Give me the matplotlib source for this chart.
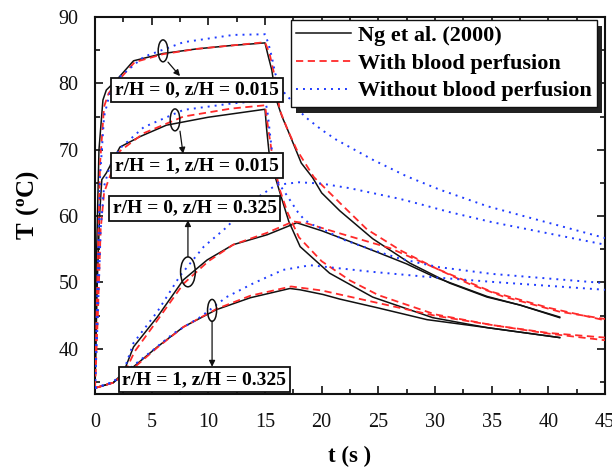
import matplotlib
matplotlib.use("Agg")
import matplotlib.pyplot as plt
from matplotlib.patches import Ellipse, Rectangle
from matplotlib.ticker import MultipleLocator

plt.rcParams['font.family'] = ['Liberation Serif', 'DejaVu Serif']
plt.rcParams['mathtext.fontset'] = 'custom'
plt.rcParams['mathtext.rm'] = 'Liberation Serif'
plt.rcParams['mathtext.bf'] = 'Liberation Serif:bold'

# ---- r/H = 0, z/H = 0.015 ----
ng_a_t = [0, 0.15, 0.35, 0.7, 1.0, 1.9, 3.4, 6.0, 9.0, 12.0, 15.0, 15.3, 15.6, 16.0, 16.5,
          17.0, 18.2, 19.2, 20.0, 21.6, 24.5, 27.8, 31.3, 34.6, 37.5, 41.0]
ng_a_T = [34.1, 55, 70, 77.5, 79, 80.5, 83.4, 84.5, 85.2, 85.7, 86.1, 84, 82, 77.5, 75,
          73, 68, 65.8, 63.5, 60.8, 56.6, 52.9, 49.9, 47.8, 46.6, 44.7]
wp_a_t = [0, 0.2, 0.45, 0.8, 1.2, 2.0, 3.5, 6, 9, 12, 15, 15.4, 15.8, 16.3, 17.0, 17.8,
          19.3, 21.6, 24, 27, 30, 33, 36, 41, 45]
wp_a_T = [34.1, 50, 68, 76.5, 78.5, 80.3, 83.2, 84.4, 85.2, 85.7, 86.2, 84.5, 81.5, 76,
          73, 70, 65.9, 62, 58.0, 54.8, 52.2, 49.8, 47.9, 45.6, 44.5]
np_a_t = [0, 0.2, 0.45, 0.8, 1.3, 2.2, 4.3, 7.8, 12.2, 15.0, 15.3, 15.6, 15.9, 16.5, 17.0,
          17.6, 18.1, 18.8, 20.0, 21.3, 24.5, 27.5, 30.4, 34.6, 38.7, 45]
np_a_T = [34.1, 48, 66, 75, 78.5, 81, 84, 86.2, 87.3, 87.4, 86, 84, 81.5, 79, 78,
          77, 75.7, 74.6, 73, 71.5, 68.5, 66, 64, 61.5, 59.6, 56.7]

# ---- r/H = 1, z/H = 0.015 ----
ng_b_t = [0, 0.2, 0.4, 0.6, 1.0, 2.2, 4.0, 6.3, 10, 15.0, 15.15, 15.35, 15.9, 16.5, 17.1,
          18.1, 20.7, 24.5, 29.8, 34.6, 41.0]
ng_b_T = [34.1, 50, 60, 65.5, 66.5, 70.4, 72, 73.7, 74.9, 76.1, 73, 69.7, 65.9, 62.5, 59.2,
          55.4, 51.4, 47.8, 44.7, 43.2, 41.7]
wp_b_t = [0, 0.25, 0.5, 0.8, 1.2, 2.2, 4.3, 7.8, 12, 15.0, 15.3, 15.7, 16.3, 17.0, 18.0,
          20.0, 22.5, 25, 30, 35, 40, 45]
wp_b_T = [34.1, 45, 58, 63.5, 65.5, 69.8, 72.5, 75.0, 76.2, 76.7, 73, 68.5, 64, 60.5, 56.8,
          53.2, 50.3, 48.1, 45.2, 43.6, 42.4, 41.7]
np_b_t = [0, 0.25, 0.5, 0.8, 1.3, 2.2, 4.3, 7.8, 12.2, 15.0, 15.2, 15.6, 16.0, 16.5, 16.9,
          17.9, 18.5, 19.2, 19.9, 22.0, 24.5, 26.9, 28.7, 30.4, 35, 40, 45]
np_b_T = [34.1, 45, 58, 64.5, 67.5, 70.2, 73.4, 76.0, 77.0, 77.4, 76, 70, 65.5, 64.2, 63.2,
          60.6, 59.4, 58.7, 58.2, 56.4, 54.9, 53.6, 52.9, 52.3, 51.3, 50.6, 49.9]

# ---- r/H = 0, z/H = 0.325 ----
ng_c_t = [0, 1.6, 2.5, 3.4, 5.5, 7.8, 9.9, 12.2, 15.2, 17.8, 20.0, 22.0, 25.0, 27.5, 30.0,
          34.6, 37.5, 41.0]
ng_c_T = [34.1, 34.9, 36.4, 40.3, 44.8, 50.4, 53.4, 55.7, 57.2, 59.0, 57.8, 56.5, 54.5, 52.8,
          50.8, 47.9, 46.6, 44.8]
wp_c_t = [0, 1.6, 2.5, 3.5, 5.5, 7.8, 10, 12.2, 15.2, 17.5, 18.7, 21.6, 26, 30.4, 35, 40, 45]
wp_c_T = [34.1, 34.9, 36, 39.6, 44.3, 49.8, 53.2, 55.7, 57.5, 59.2, 58.9, 57.4, 55.2, 51.9,
          48.6, 46.2, 44.3]
np_c_t = [0, 1.6, 2.5, 3.4, 5.5, 7.5, 9.6, 11.6, 13, 14.5, 16, 18, 20, 22.5, 26.9, 28.7,
          31.3, 35, 40, 45]
np_c_T = [34.1, 35, 36.5, 40.9, 45.6, 51, 55.4, 58.3, 60.8, 63, 64.7, 65.1, 64.9, 64.2,
          62.6, 61.8, 60.6, 59.1, 57.4, 55.7]

# ---- r/H = 1, z/H = 0.325 ----
ng_d_t = [0, 1.6, 3.4, 5.5, 7.8, 10.7, 13.7, 17.2, 18.1, 20.1, 21.6, 24.9, 29.3, 34.6, 41]
ng_d_T = [34.1, 34.9, 37.3, 40.3, 43.3, 45.9, 47.7, 49.1, 48.9, 48.2, 47.5, 46.2, 44.4,
          43.2, 41.7]
wp_d_t = [0, 1.6, 3.4, 5.5, 7.8, 10.7, 13.7, 17.3, 20, 25, 30, 35, 40, 45]
wp_d_T = [34.1, 34.9, 37.1, 40.2, 43.3, 46, 48, 49.4, 48.8, 46.9, 45.0, 43.6, 42.3, 41.3]
np_d_t = [0, 1.6, 3.4, 5.1, 6.9, 9.3, 11.6, 14, 16.6, 19, 20.1, 24.5, 29, 35, 40, 45]
np_d_T = [34.1, 35, 37.5, 39.8, 42.3, 44.8, 47.8, 49.9, 51.9, 52.6, 52.4, 51.6, 50.9,
          50.1, 49.5, 48.9]

series_labels = ['Ng et al. (2000)', 'With blood perfusion', 'Without blood perfusion']
location_labels = ['r/H = 0, z/H = 0.015', 'r/H = 1, z/H = 0.015',
                   'r/H = 0, z/H = 0.325', 'r/H = 1, z/H = 0.325']

BLACK = '#111111'
RED = '#ff2a2a'
BLUE = '#1f3cff'

fig = plt.figure(figsize=(6.12, 4.67), dpi=100)
ax = fig.add_axes([95 / 612, 1 - 394 / 467, 510 / 612, 377 / 467])

ng_sets = [(ng_a_t, ng_a_T), (ng_b_t, ng_b_T), (ng_c_t, ng_c_T), (ng_d_t, ng_d_T)]
wp_sets = [(wp_a_t, wp_a_T), (wp_b_t, wp_b_T), (wp_c_t, wp_c_T), (wp_d_t, wp_d_T)]
np_sets = [(np_a_t, np_a_T), (np_b_t, np_b_T), (np_c_t, np_c_T), (np_d_t, np_d_T)]

for i, (t, T) in enumerate(ng_sets):
    ax.plot(t, T, color=BLACK, lw=1.1, label=series_labels[0] if i == 0 else None, zorder=3)
for i, (t, T) in enumerate(wp_sets):
    ax.plot(t, T, color=RED, lw=1.3, ls=(0, (4, 2.5)),
            label=series_labels[1] if i == 0 else None, zorder=3)
for i, (t, T) in enumerate(np_sets):
    ax.plot(t, T, color=BLUE, lw=1.4, ls=(0, (1, 2.6)),
            label=series_labels[2] if i == 0 else None, zorder=3)

ax.set_xlim(0, 45)
ax.set_ylim(33.2, 90)
ax.xaxis.set_major_locator(MultipleLocator(5))
ax.xaxis.set_minor_locator(MultipleLocator(2.5))
ax.yaxis.set_major_locator(MultipleLocator(10))
ax.yaxis.set_minor_locator(MultipleLocator(5))
ax.tick_params(which='both', direction='in', top=True, right=True, width=1.2,
               labelsize=14.5, colors=BLACK)
ax.tick_params(which='major', length=6)
ax.tick_params(axis='x', which='major', pad=14)
ax.tick_params(axis='y', which='major', pad=12)
ax.tick_params(which='minor', length=3.5)
ax.set_yticks([40, 50, 60, 70, 80, 90])
for s in ax.spines.values():
    s.set_linewidth(1.5)
    s.set_color(BLACK)

ax.set_xlabel('t (s )', fontsize=16.5, fontweight='bold')
ax.set_ylabel(r'$\mathbf{T\ (^{o}C)}$', fontsize=18)
ax.xaxis.set_label_coords(0.5, -0.138)
ax.yaxis.set_label_coords(-0.105, 0.5)

leg = ax.legend(loc='upper right', bbox_to_anchor=(0.984, 0.992), borderaxespad=0,
                fancybox=False, edgecolor=BLACK, framealpha=1,
                prop={'weight': 'bold', 'size': 16}, handlelength=2.45,
                handletextpad=0.3, labelspacing=0.32, borderpad=0.25)
leg.get_frame().set_linewidth(1.0)
leg.set_zorder(6)

# location labels, ellipses and pointers
box_style = dict(boxstyle='square,pad=0.2', fc='white', ec=BLACK, lw=1.3)
box_xy = [(9.0, 79.0), (9.0, 67.6), (8.78, 61.2), (9.66, 35.4)]
for (bx, by), lab in zip(box_xy, location_labels):
    ax.text(bx, by, lab, fontsize=14, fontweight='bold', ha='center', va='center',
            bbox=box_style, zorder=7)

ellipse_specs = [((6.0, 84.9), 0.85, 3.3), ((7.06, 74.5), 0.85, 3.3),
                 ((8.2, 51.6), 1.3, 4.5), ((10.33, 45.8), 0.8, 3.3)]
for (cx, cy), w, h in ellipse_specs:
    ax.add_patch(Ellipse((cx, cy), w, h, fill=False, ec=BLACK, lw=1.1, zorder=5))

arrows = [((6.44, 83.2), (7.5, 81.1)), ((7.5, 72.8), (7.77, 69.4)),
          ((8.2, 53.9), (8.2, 59.4)), ((10.33, 44.2), (10.33, 37.3))]
for start, end in arrows:
    ax.annotate('', xy=end, xytext=start,
                arrowprops=dict(arrowstyle='-|>', color=BLACK, lw=0.9,
                                mutation_scale=9, shrinkA=0, shrinkB=0), zorder=6)

# drop shadow behind the legend box
fig.canvas.draw()
bb = leg.get_window_extent()
inv = ax.transAxes.inverted()
(x0, y0) = inv.transform((bb.x0 + 5, bb.y0 - 6))
(x1, y1) = inv.transform((bb.x1 + 5, bb.y1 - 6))
ax.add_patch(Rectangle((x0, y0), x1 - x0, y1 - y0, transform=ax.transAxes,
                       fc='#222222', ec='none', clip_on=False, zorder=5.5))

fig.savefig('out.png', dpi=100)
